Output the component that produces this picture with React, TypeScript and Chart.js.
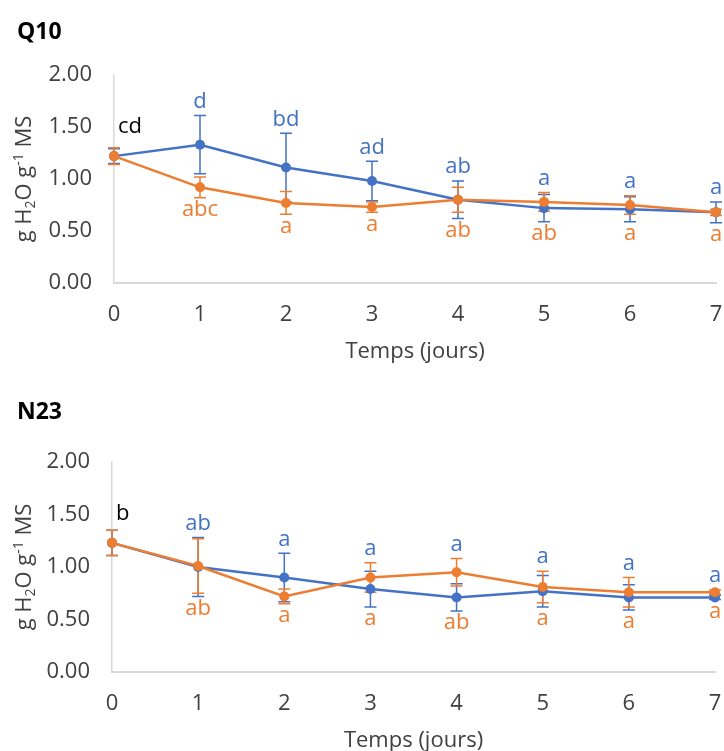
import React, { useEffect, useRef } from 'react';
import { Chart, registerables } from 'chart.js';

Chart.register(...registerables);

// ---------- data ----------
const DAYS = ['0', '1', '2', '3', '4', '5', '6', '7'];
const Y_MIN = 0;
const Y_MAX = 2;
const Y_STEP = 0.5;

const Q10_BLUE = [1.22, 1.33, 1.11, 0.98, 0.8, 0.72, 0.71, 0.68];
const Q10_BLUE_ERR = [0.07, 0.28, 0.33, 0.19, 0.18, 0.13, 0.12, 0.1];
const Q10_ORANGE = [1.22, 0.92, 0.77, 0.73, 0.8, 0.78, 0.75, 0.68];
const Q10_ORANGE_ERR = [0.08, 0.1, 0.11, 0.05, 0.12, 0.09, 0.09, 0.03];
const Q10_BLUE_LETTERS = ['', 'd', 'bd', 'ad', 'ab', 'a', 'a', 'a'];
const Q10_ORANGE_LETTERS = ['', 'abc', 'a', 'a', 'ab', 'ab', 'a', 'a'];
const Q10_START_LETTER = 'cd';

const N23_BLUE = [1.23, 1.0, 0.9, 0.79, 0.71, 0.77, 0.71, 0.71];
const N23_BLUE_ERR = [0.12, 0.28, 0.23, 0.17, 0.13, 0.15, 0.12, 0.02];
const N23_ORANGE = [1.23, 1.01, 0.72, 0.9, 0.95, 0.81, 0.76, 0.76];
const N23_ORANGE_ERR = [0.12, 0.26, 0.07, 0.14, 0.13, 0.15, 0.14, 0.02];
const N23_BLUE_LETTERS = ['', 'ab', 'a', 'a', 'a', 'a', 'a', 'a'];
const N23_ORANGE_LETTERS = ['', 'ab', 'a', 'a', 'ab', 'a', 'a', 'a'];
const N23_START_LETTER = 'b';

const X_TITLE = 'Temps (jours)';

// ---------- styles ----------
const BLUE = '#4472C4';
const ORANGE = '#ED7D31';
const FONT = '"Open Sans", "Noto Sans", sans-serif';
const TEXT = '#404040';
const FS = 22;

type PanelProps = {
  title: string;
  blue: number[];
  blueErr: number[];
  orange: number[];
  orangeErr: number[];
  blueLetters: string[];
  orangeLetters: string[];
  startLetter: string;
  top: number;
  height: number;
  chartTop: number;
  chartBottom: number;
  chartLeft: number;
  chartRight: number;
};

function Panel(p: PanelProps) {
  const ref = useRef<HTMLCanvasElement | null>(null);

  useEffect(() => {
    const canvas = ref.current;
    if (!canvas) return;

    const annotate = {
      id: 'annotate',
      beforeDatasetsDraw(chart: any) {
        const { ctx } = chart;
        const x = chart.scales.x;
        const y = chart.scales.y;
        const series: [number[], number[], string][] = [
          [p.blue, p.blueErr, BLUE],
          [p.orange, p.orangeErr, ORANGE],
        ];
        series.forEach(([vals, errs, col]) => {
          ctx.save();
          ctx.strokeStyle = col;
          ctx.lineWidth = 1.5;
          vals.forEach((v, i) => {
            const px = x.getPixelForValue(i);
            const t = y.getPixelForValue(v + errs[i]);
            const b = y.getPixelForValue(v - errs[i]);
            ctx.beginPath();
            ctx.moveTo(px, t);
            ctx.lineTo(px, b);
            ctx.moveTo(px - 6, t);
            ctx.lineTo(px + 6, t);
            ctx.moveTo(px - 6, b);
            ctx.lineTo(px + 6, b);
            ctx.stroke();
          });
          ctx.restore();
        });
      },
      afterDraw(chart: any) {
        const { ctx, chartArea } = chart;
        const x = chart.scales.x;
        const y = chart.scales.y;
        ctx.save();
        // panel title
        ctx.fillStyle = '#000';
        ctx.font = `bold 23px ${FONT}`;
        ctx.textAlign = 'left';
        ctx.textBaseline = 'middle';
        ctx.fillText(p.title, 17, 32);

        // x title
        ctx.fillStyle = TEXT;
        ctx.font = `${FS}px ${FONT}`;
        ctx.textAlign = 'center';
        ctx.fillText(X_TITLE, (chartArea.left + chartArea.right) / 2, chartArea.bottom + 69);

        // y title with sub/superscripts
        const segs: { t: string; k: 'n' | 'sub' | 'sup' }[] = [
          { t: 'g H', k: 'n' },
          { t: '2', k: 'sub' },
          { t: 'O g', k: 'n' },
          { t: '-1', k: 'sup' },
          { t: ' MS', k: 'n' },
        ];
        const fN = `${FS}px ${FONT}`;
        const fS = `14px ${FONT}`;
        let total = 0;
        const widths = segs.map((s) => {
          ctx.font = s.k === 'n' ? fN : fS;
          const w = ctx.measureText(s.t).width;
          total += w;
          return w;
        });
        ctx.translate(25, (chartArea.top + chartArea.bottom) / 2);
        ctx.rotate(-Math.PI / 2);
        ctx.textAlign = 'left';
        ctx.textBaseline = 'middle';
        let cx = -total / 2;
        segs.forEach((s, i) => {
          ctx.font = s.k === 'n' ? fN : fS;
          const dy = s.k === 'sub' ? 6 : s.k === 'sup' ? -6 : 0;
          ctx.fillText(s.t, cx, dy);
          cx += widths[i];
        });
        ctx.restore();

        // significance letters
        ctx.save();
        ctx.font = `${FS}px ${FONT}`;
        ctx.textBaseline = 'middle';
        ctx.fillStyle = '#000';
        ctx.textAlign = 'left';
        ctx.fillText(
          p.startLetter,
          x.getPixelForValue(0) + 4,
          y.getPixelForValue(Math.max(p.blue[0], p.orange[0])) - 29
        );
        ctx.textAlign = 'center';
        DAYS.forEach((_, i) => {
          if (i === 0) return;
          const px = x.getPixelForValue(i);
          const topPx = Math.min(
            y.getPixelForValue(p.blue[i] + p.blueErr[i]),
            y.getPixelForValue(p.orange[i] + p.orangeErr[i])
          );
          const botPx = Math.max(
            y.getPixelForValue(p.blue[i] - p.blueErr[i]),
            y.getPixelForValue(p.orange[i] - p.orangeErr[i])
          );
          ctx.fillStyle = BLUE;
          ctx.fillText(p.blueLetters[i], px, topPx - 14);
          ctx.fillStyle = ORANGE;
          ctx.fillText(p.orangeLetters[i], px, botPx + 12);
        });
        ctx.restore();
      },
    };

    const chart = new Chart(canvas, {
      type: 'line',
      data: {
        labels: DAYS,
        datasets: [
          {
            label: 'blue',
            data: p.blue,
            borderColor: BLUE,
            backgroundColor: BLUE,
            borderWidth: 2.5,
            pointRadius: 5,
            pointBorderWidth: 0,
            pointBackgroundColor: BLUE,
            order: 1,
            tension: 0,
          },
          {
            label: 'orange',
            data: p.orange,
            borderColor: ORANGE,
            backgroundColor: ORANGE,
            borderWidth: 2.5,
            pointRadius: 5,
            pointBorderWidth: 0,
            pointBackgroundColor: ORANGE,
            order: 0,
            tension: 0,
          },
        ],
      },
      options: {
        responsive: false,
        animation: false,
        layout: { padding: { top: p.chartTop, right: 724 - p.chartRight, left: 0, bottom: 0 } },
        plugins: {
          legend: { display: false },
          title: { display: false },
          tooltip: { enabled: false },
        },
        scales: {
          x: {
            type: 'category',
            offset: false,
            grid: { display: false, drawTicks: false },
            border: { display: true, color: '#D9D9D9', width: 2 },
            ticks: {
              color: TEXT,
              padding: 19,
              font: { family: FONT, size: FS },
              maxRotation: 0,
              autoSkip: false,
            },
            afterFit: (s: any) => {
              s.height = p.height - p.chartBottom;
              s.paddingLeft = 0;
              s.paddingRight = 0;
            },
          },
          y: {
            min: Y_MIN,
            max: Y_MAX,
            grid: { display: false, drawTicks: false },
            border: { display: true, color: '#D9D9D9', width: 1.5 },
            ticks: {
              stepSize: Y_STEP,
              color: TEXT,
              padding: 22,
              font: { family: FONT, size: FS },
              callback: (v: any) => Number(v).toFixed(2),
            },
            afterFit: (s: any) => {
              s.width = p.chartLeft;
              s.paddingTop = 0;
              s.paddingBottom = 0;
            },
          },
        },
      },
      plugins: [annotate],
    } as any);

    return () => chart.destroy();
  }, []);

  return (
    <canvas
      ref={ref}
      width={724}
      height={p.height}
      style={{ position: 'absolute', left: 0, top: p.top, display: 'block' }}
    />
  );
}

export default function App() {
  return (
    <div style={{ position: 'absolute', left: 0, top: 0, width: 724, height: 751, background: '#fff' }}>
      <Panel
        title="Q10"
        blue={Q10_BLUE}
        blueErr={Q10_BLUE_ERR}
        orange={Q10_ORANGE}
        orangeErr={Q10_ORANGE_ERR}
        blueLetters={Q10_BLUE_LETTERS}
        orangeLetters={Q10_ORANGE_LETTERS}
        startLetter={Q10_START_LETTER}
        top={0}
        height={380}
        chartTop={75}
        chartBottom={283}
        chartLeft={114}
        chartRight={716}
      />
      <Panel
        title="N23"
        blue={N23_BLUE}
        blueErr={N23_BLUE_ERR}
        orange={N23_ORANGE}
        orangeErr={N23_ORANGE_ERR}
        blueLetters={N23_BLUE_LETTERS}
        orangeLetters={N23_ORANGE_LETTERS}
        startLetter={N23_START_LETTER}
        top={380}
        height={371}
        chartTop={82}
        chartBottom={292}
        chartLeft={112}
        chartRight={715}
      />
    </div>
  );
}
